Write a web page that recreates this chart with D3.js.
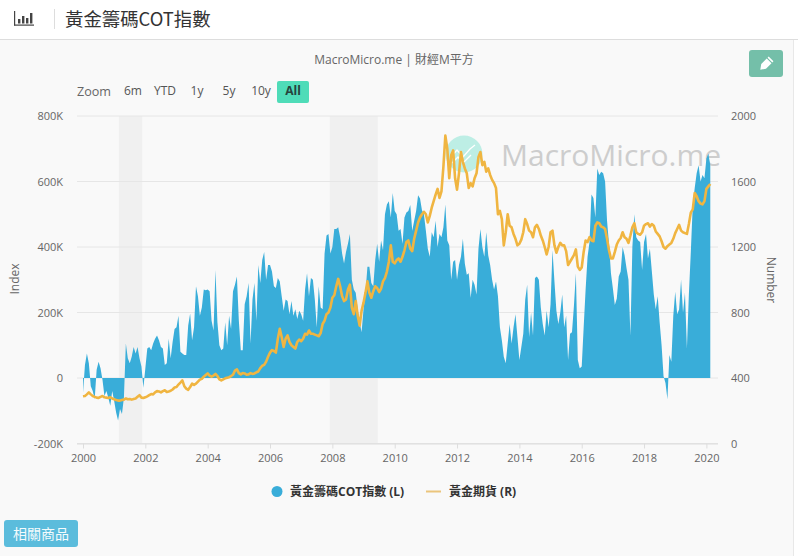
<!DOCTYPE html>
<html>
<head>
<meta charset="utf-8">
<script src="https://cdn.jsdelivr.net/npm/d3@7"></script>
<style>
  html, body { margin: 0; padding: 0; background: #f9f9f9; }
  svg { display: block; font-family: "Open Sans", "Noto Sans CJK TC", sans-serif; }
</style>
</head>
<body>
<svg id="chart" width="798" height="556"></svg>
<script>
const chartTitle = "黃金籌碼COT指數";
const subtitle = "MacroMicro.me | 財經M平方";
const zoomButtons = ["6m", "YTD", "1y", "5y", "10y", "All"];
const yearTicks = [2000, 2002, 2004, 2006, 2008, 2010, 2012, 2014, 2016, 2018, 2020];
const leftTicks = [-200, 0, 200, 400, 600, 800];
const rightTicks = [0, 400, 800, 1200, 1600, 2000];
const recessions = [[2001.15, 2001.9], [2007.92, 2009.46]];
const seriesNames = ["黃金籌碼COT指數 (L)", "黃金期貨 (R)"];

// one row per year, 16 readings a year, starting 2000
const samplesPerYear = 16;
const cotIndex = [
  -45,40,75,45,-25,-40,-65,25,50,30,-5,-55,-40,-60,-85,-40,
  -70,-105,-130,-95,-110,-60,105,60,45,65,95,75,95,60,35,-30,
  30,90,95,85,105,120,130,115,95,90,40,45,120,60,110,150,
  155,190,80,75,70,70,160,197,115,155,280,250,190,215,270,268,
  270,265,175,145,330,170,100,85,90,170,100,190,150,265,285,310,
  175,85,85,225,250,290,105,240,290,175,345,290,360,385,300,345,
  345,325,280,275,305,295,250,205,240,235,195,235,190,210,180,205,
  195,175,270,320,250,305,300,240,155,280,215,210,380,435,440,380,
  400,455,455,460,430,380,350,385,410,440,300,270,260,210,170,140,
  210,260,340,340,290,280,360,410,355,420,390,500,530,540,490,565,
  510,500,450,455,410,490,505,510,528,450,480,510,558,548,512,500,
  450,395,370,445,430,480,400,440,430,460,530,420,405,300,355,360,
  300,345,370,425,350,315,320,245,300,285,255,395,455,400,370,445,
  375,345,300,270,295,250,155,115,65,45,105,165,105,155,195,125,
  55,95,135,240,285,125,200,130,305,310,300,215,165,130,205,155,
  225,390,295,205,165,200,255,155,190,55,135,140,220,320,55,30,
  35,155,270,370,415,560,550,490,640,620,630,625,600,480,410,320,
  273,223,243,310,325,400,375,335,300,130,400,500,430,420,415,330,
  415,440,365,395,325,255,210,250,170,100,5,-15,-65,70,50,190,
  263,195,210,300,200,260,90,255,385,528,580,625,650,600,620,610,
  670,685,650
];
const goldFutures = [
  288,290,300,312,300,290,285,280,278,285,290,282,280,278,282,275,
  270,265,262,262,265,268,275,270,272,268,272,275,285,295,280,278,
  282,288,295,302,300,312,320,318,312,320,325,315,318,322,330,342,
  345,360,372,385,350,335,328,345,365,358,365,378,390,395,408,418,
  428,415,408,415,425,412,392,385,392,398,402,405,412,420,445,452,
  430,422,430,428,420,422,430,425,428,435,440,460,475,480,500,530,
  555,570,565,555,640,700,650,590,640,660,620,600,590,580,620,635,
  625,640,670,665,690,670,670,665,660,655,675,730,750,790,800,830,
  890,905,960,1005,960,900,870,880,940,970,830,790,870,780,720,810,
  860,920,990,920,890,930,960,950,925,945,990,1010,1050,1110,1210,1110,
  1100,1120,1130,1110,1140,1180,1230,1240,1190,1175,1250,1300,1350,1380,1400,1415,
  1400,1350,1390,1440,1480,1520,1555,1500,1540,1690,1880,1800,1620,1760,1790,1620,
  1550,1650,1780,1720,1680,1650,1560,1590,1570,1620,1650,1750,1780,1700,1720,1660,
  1680,1640,1610,1590,1560,1400,1420,1370,1210,1290,1400,1330,1320,1280,1250,1210,
  1220,1245,1290,1370,1340,1300,1290,1260,1320,1335,1310,1270,1240,1200,1155,1200,
  1290,1300,1210,1165,1200,1225,1210,1210,1175,1090,1110,1130,1150,1185,1080,1060,
  1075,1170,1240,1230,1260,1240,1235,1330,1350,1345,1325,1320,1310,1250,1180,1130,
  1130,1170,1215,1240,1255,1290,1260,1250,1225,1270,1320,1345,1290,1280,1275,1290,
  1330,1340,1345,1325,1340,1330,1295,1280,1265,1235,1200,1190,1205,1215,1225,1250,
  1285,1310,1335,1300,1290,1285,1280,1340,1410,1430,1530,1510,1480,1465,1460,1480,
  1555,1570,1585
];

const yearOf = i => 2000 + i / samplesPerYear;

const svg = d3.select("#chart");

const x = d3.scaleLinear().domain([2000, 2020]).range([83, 706.4]);
const yLeft = d3.scaleLinear().domain([-200, 800]).range([443.5, 116]);
const yRight = d3.scaleLinear().domain([0, 2000]).range([443.5, 116]);

// page chrome
svg.append("rect").attr("width", 798).attr("height", 39).attr("fill", "#fff");
svg.append("line").attr("x1", 0).attr("x2", 798).attr("y1", 39.5).attr("y2", 39.5).attr("stroke", "#ddd");
svg.append("rect").attr("x", 793).attr("y", 40).attr("width", 5).attr("height", 516).attr("fill", "#fff");
svg.append("line").attr("x1", 793.5).attr("x2", 793.5).attr("y1", 40).attr("y2", 556).attr("stroke", "#e8e8e8");

const icon = svg.append("g").attr("fill", "#444");
icon.append("rect").attr("x", 14).attr("y", 11).attr("width", 1.2).attr("height", 14.5);
icon.append("rect").attr("x", 14).attr("y", 24.5).attr("width", 20).attr("height", 1.2);
[[18, 19], [22, 16], [26, 18], [30, 13]].forEach(([bx, by]) => {
  icon.append("rect").attr("x", bx).attr("y", by).attr("width", 2.4).attr("height", 23.5 - by);
});
svg.append("line").attr("x1", 54.5).attr("x2", 54.5).attr("y1", 9).attr("y2", 29).attr("stroke", "#ddd");
svg.append("text").attr("x", 65).attr("y", 25.5).attr("font-size", 18.4).attr("fill", "#333")
  .attr("font-family", "'Noto Sans CJK TC', sans-serif").text(chartTitle);

svg.append("text").attr("x", 394).attr("y", 64).attr("text-anchor", "middle")
  .attr("font-size", 12).attr("fill", "#666").text(subtitle);

// edit button
svg.append("rect").attr("x", 749).attr("y", 50).attr("width", 34).attr("height", 27).attr("rx", 3).attr("fill", "#74bfa9");
svg.append("path").attr("transform", "translate(766,64) rotate(45) scale(1.3)")
  .attr("d", "M-2.6,-5.5 h5.2 v1.2 h-5.2 z M-2.6,-3.4 h5.2 v6 l-2.6,3.6 l-2.6,-3.6 z").attr("fill", "#fff");

// range selector
svg.append("text").attr("x", 77).attr("y", 96).attr("font-size", 12.6).attr("fill", "#666").text("Zoom");
const zoomX = d3.scalePoint().domain(zoomButtons).range([133, 293]);
svg.append("rect").attr("x", 277).attr("y", 81).attr("width", 32).attr("height", 22).attr("rx", 2).attr("fill", "#4fdcb8");
svg.selectAll(".zoom").data(zoomButtons).join("text").attr("class", "zoom")
  .attr("x", d => zoomX(d)).attr("y", 95).attr("text-anchor", "middle").attr("font-size", 12)
  .attr("font-weight", d => d === "All" ? 700 : 400)
  .attr("fill", d => d === "All" ? "#26433c" : "#555").text(d => d);

// recession bands
svg.selectAll(".band").data(recessions).join("rect").attr("class", "band")
  .attr("x", d => x(d[0])).attr("width", d => x(d[1]) - x(d[0]))
  .attr("y", 116).attr("height", 327.5).attr("fill", "#f0f0f0");

// gridlines
svg.selectAll(".grid").data(leftTicks).join("line").attr("class", "grid")
  .attr("x1", 77).attr("x2", 718)
  .attr("y1", d => yLeft(d)).attr("y2", d => yLeft(d))
  .attr("stroke", "#e6e6e6");

// watermark
svg.append("circle").attr("cx", 464).attr("cy", 154).attr("r", 18.5).attr("fill", "#bdeee5");
svg.append("path").attr("d", "M451,157 l6,-7 l6,7 l7,-8 l5,-4 M452,163 l6,-6 l5,6 l8,-8")
  .attr("fill", "none").attr("stroke", "#fff").attr("stroke-width", 1.3);
svg.append("text").attr("x", 501).attr("y", 166).attr("font-size", 30).attr("fill", "#cdcdcd")
  .text("MacroMicro.me");

// series
const cotArea = d3.area()
  .x((d, i) => x(yearOf(i)))
  .y0(yLeft(0))
  .y1(d => yLeft(d));
svg.append("path").datum(cotIndex).attr("d", cotArea).attr("fill", "#39add9");

const goldLine = d3.line()
  .x((d, i) => x(yearOf(i)))
  .y(d => yRight(d));
svg.append("path").datum(goldFutures).attr("d", goldLine)
  .attr("fill", "none").attr("stroke", "#f0b541").attr("stroke-width", 2.6).attr("stroke-linejoin", "round");

// axes
const xAxis = d3.axisBottom(x).tickValues(yearTicks).tickFormat(d3.format("d")).tickSize(5).tickPadding(6);
const gx = svg.append("g").attr("transform", "translate(0,443.5)").call(xAxis);
gx.select(".domain").attr("stroke", "#ddd").attr("d", "M77,0.5H718");
gx.selectAll(".tick line").attr("stroke", "#ddd");
gx.selectAll("text").attr("font-size", 11).attr("fill", "#666").attr("font-family", "'Open Sans', sans-serif");

const yAxisL = d3.axisLeft(yLeft).tickValues(leftTicks).tickFormat(d => d === 0 ? "0" : d + "K").tickSize(0).tickPadding(14);
const gl = svg.append("g").attr("transform", "translate(77,0)").call(yAxisL);
gl.select(".domain").remove();
gl.selectAll("text").attr("font-size", 11).attr("fill", "#666").attr("font-family", "'Open Sans', sans-serif");

const yAxisR = d3.axisRight(yRight).tickValues(rightTicks).tickFormat(d3.format("d")).tickSize(0).tickPadding(13);
const gr = svg.append("g").attr("transform", "translate(718,0)").call(yAxisR);
gr.select(".domain").remove();
gr.selectAll("text").attr("font-size", 11).attr("fill", "#666").attr("font-family", "'Open Sans', sans-serif");

svg.append("text").attr("transform", "translate(19,279) rotate(-90)").attr("text-anchor", "middle")
  .attr("font-size", 12).attr("fill", "#666").text("Index");
svg.append("text").attr("transform", "translate(767,280) rotate(90)").attr("text-anchor", "middle")
  .attr("font-size", 12).attr("fill", "#666").text("Number");

// legend
svg.append("circle").attr("cx", 277).attr("cy", 491.5).attr("r", 5.5).attr("fill", "#39add9");
svg.append("text").attr("x", 290).attr("y", 495.5).attr("font-size", 12).attr("font-weight", 700)
  .attr("fill", "#333").text(seriesNames[0]);
svg.append("line").attr("x1", 426).attr("x2", 441).attr("y1", 491.5).attr("y2", 491.5)
  .attr("stroke", "#ebc57c").attr("stroke-width", 2);
svg.append("text").attr("x", 449).attr("y", 495.5).attr("font-size", 12).attr("font-weight", 700)
  .attr("fill", "#333").text(seriesNames[1]);

// related products button
svg.append("rect").attr("x", 4).attr("y", 520).attr("width", 74).attr("height", 27).attr("rx", 3).attr("fill", "#5bbcdc");
svg.append("text").attr("x", 41).attr("y", 538.5).attr("text-anchor", "middle").attr("font-size", 14)
  .attr("fill", "#f4fbfd").attr("font-family", "'Noto Sans CJK TC', sans-serif").text("相關商品");
</script>
</body>
</html>
